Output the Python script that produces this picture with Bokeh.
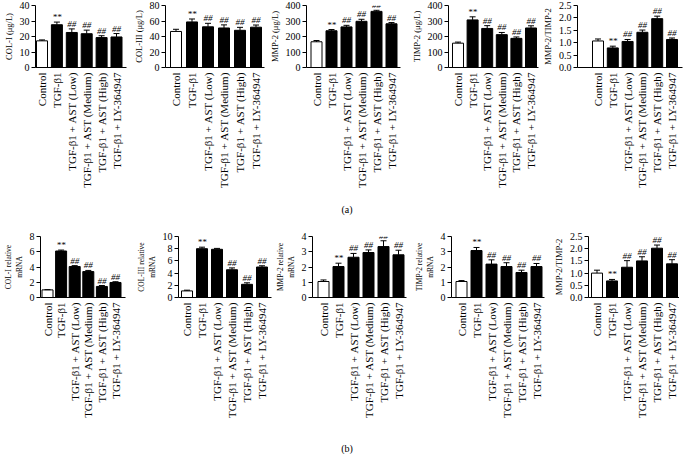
import math
from bokeh.plotting import figure
from bokeh.models import (Range1d, FixedTicker, SingleIntervalTicker, NumeralTickFormatter,
                          Whisker, TeeHead, ColumnDataSource, Div, LabelSet)
from bokeh.layouts import row, column
from bokeh.embed import file_html
from bokeh.resources import INLINE

groups = ["Control", "TGF-β1", "TGF-β1 + AST (Low)", "TGF-β1 + AST (Medium)",
          "TGF-β1 + AST (High)", "TGF-β1 + LY-364947"]

# (a) protein levels
col1_a = [17.2, 27.6, 22.6, 21.8, 19.3, 19.7]
col1_a_err = [0.6, 1.7, 2.3, 2.3, 1.2, 2.2]
col3_a = [46.5, 58.8, 52.5, 51.0, 48.0, 52.0]
col3_a_err = [2.8, 3.8, 4.5, 4.0, 3.8, 2.8]
mmp2_a = [166, 237, 262, 298, 362, 282]
mmp2_a_err = [8, 8, 10, 13, 7, 8]
timp2_a = [157, 307, 252, 212, 188, 255]
timp2_a_err = [7, 20, 18, 14, 9, 14]
ratio_a = [1.07, 0.79, 1.05, 1.42, 1.97, 1.13]
ratio_a_err = [0.08, 0.07, 0.08, 0.09, 0.10, 0.06]

# (b) relative mRNA
col1_b = [1.0, 6.1, 4.06, 3.4, 1.45, 1.97]
col1_b_err = [0.03, 0.12, 0.12, 0.15, 0.12, 0.1]
col3_b = [1.08, 8.0, 7.9, 4.55, 2.16, 5.0]
col3_b_err = [0.12, 0.25, 0.15, 0.3, 0.25, 0.2]
mmp2_b = [1.05, 2.03, 2.64, 2.95, 3.34, 2.8]
mmp2_b_err = [0.1, 0.22, 0.25, 0.17, 0.38, 0.3]
timp2_b = [1.05, 3.08, 2.19, 2.03, 1.64, 2.03]
timp2_b_err = [0.06, 0.2, 0.28, 0.25, 0.15, 0.2]
ratio_b = [1.0, 0.68, 1.24, 1.5, 2.02, 1.38]
ratio_b_err = [0.12, 0.06, 0.27, 0.17, 0.13, 0.17]

marks_std = ["", "**", "##", "##", "##", "##"]
marks_col3_b = ["", "**", "", "##", "##", "##"]

FONT = "Liberation Serif"

# (label, label size, values, errors, marks, y max, tick step, tick format)
panels_a = [
    ("COL-I (μg/L)", "8.5px", col1_a, col1_a_err, marks_std, 40, 10, "0"),
    ("COL-III (μg/L)", "8.5px", col3_a, col3_a_err, marks_std, 80, 20, "0"),
    ("MMP-2 (μg/L)", "8.5px", mmp2_a, mmp2_a_err, marks_std, 400, 100, "0"),
    ("TIMP-2 (μg/L)", "8.5px", timp2_a, timp2_a_err, marks_std, 400, 100, "0"),
    ("MMP-2/TIMP-2", "8.5px", ratio_a, ratio_a_err, marks_std, 2.5, 0.5, "0.0"),
]
panels_b = [
    ("COL-I relative\nmRNA", "7.5px", col1_b, col1_b_err, marks_std, 8, 2, "0"),
    ("COL-III relative\nmRNA", "7.5px", col3_b, col3_b_err, marks_col3_b, 10, 2, "0"),
    ("MMP-2 relative\nmRNA", "7.5px", mmp2_b, mmp2_b_err, marks_std, 4, 1, "0"),
    ("TIMP-2 relative\nmRNA", "7.5px", timp2_b, timp2_b_err, marks_std, 4, 1, "0"),
    ("MMP-2/TIMP-2", "8.5px", ratio_b, ratio_b_err, marks_std, 2.5, 0.5, "0.0"),
]

# layout geometry (page pixels)
geo_a = dict(edges=[8, 137, 274, 408, 544, 685], L=[43, 173, 311, 453, 578],
             R=[134, 272, 405, 543, 683], c0=[49.5, 183.5, 321, 462.5, 598.5],
             s=[14.9, 16, 15, 14.6, 14.8], frame_h=62, top=5, bottom=122)
geo_b = dict(edges=[8, 140, 278, 414, 552, 685], L=[47, 184, 318, 457, 594],
             R=[132, 277, 412, 550, 685], c0=[54, 192.5, 329, 467, 602.5],
             s=[13.6, 15, 15, 15, 15], frame_h=61, top=13, bottom=122)


def make_panel(spec, geo, i):
    label, lsize, vals, errs, marks, ymax, step, fmt = spec
    start, end = geo["edges"][i], geo["edges"][i + 1]
    L, R, c0, s = geo["L"][i], geo["R"][i], geo["c0"][i], geo["s"][i]
    x0 = -(c0 - L) / s
    x1 = x0 + (R - L) / s
    idx = list(range(len(groups)))
    p = figure(width=None, height=None, frame_width=R - L, frame_height=geo["frame_h"],
               output_backend="svg", toolbar_location=None,
               x_range=Range1d(x0, x1), y_range=Range1d(0, ymax),
               min_border_left=L - start, min_border_right=end - R,
               min_border_top=geo["top"], min_border_bottom=geo["bottom"])
    p.outline_line_color = None
    p.grid.visible = False
    p.background_fill_color = "white"
    p.border_fill_color = "white"

    fills = ["white" if k == 0 else "black" for k in idx]
    src = ColumnDataSource(dict(x=idx, v=vals, ve=[a + b for a, b in zip(vals, errs)],
                                fill=fills, mark=marks))
    p.vbar(x="x", top="v", width=11.0 / s, fill_color="fill", line_color="black",
           line_width=1, source=src)
    w = Whisker(base="x", lower="v", upper="ve", source=src, dimension="height",
                lower_head=None, upper_head=TeeHead(size=6, line_width=1, line_color="black"),
                line_color="black", line_width=1, level="glyph")
    p.add_layout(w)
    marks_ann = LabelSet(x="x", y="ve", text="mark", source=src, text_font=FONT,
                         text_font_size="9px", text_align="center", text_baseline="bottom",
                         text_font_style="italic", text_color="black", y_offset=0,
                         level="overlay")
    p.add_layout(marks_ann)

    xa = p.xaxis[0]
    xa.axis_label = None
    xa.ticker = FixedTicker(ticks=idx)
    xa.major_label_overrides = {k: g for k, g in zip(idx, groups)}
    xa.major_label_orientation = math.pi / 2
    xa.major_tick_out = 0
    xa.major_tick_in = 0
    xa.minor_tick_out = 0
    xa.major_label_standoff = 5
    xa.axis_line_color = "black"
    xa.major_label_text_font = FONT
    xa.major_label_text_font_size = "11px"
    xa.major_label_text_color = "black"

    ya = p.yaxis[0]
    ya.ticker = SingleIntervalTicker(interval=step, num_minor_ticks=0)
    ya.formatter = NumeralTickFormatter(format=fmt)
    ya.axis_label = label
    ya.axis_label_text_font = FONT
    ya.axis_label_text_font_size = lsize
    ya.axis_label_text_font_style = "normal"
    ya.axis_label_text_color = "black"
    ya.axis_label_standoff = 3
    ya.major_tick_out = 4
    ya.major_tick_in = 0
    ya.minor_tick_out = 0
    ya.minor_tick_in = 0
    ya.major_label_standoff = 2
    ya.major_label_text_font = FONT
    ya.major_label_text_font_size = "10px"
    ya.major_label_text_color = "black"
    ya.axis_line_color = "black"
    ya.major_tick_line_color = "black"
    return p


row_a = row(*[make_panel(sp, geo_a, i) for i, sp in enumerate(panels_a)])
row_b = row(*[make_panel(sp, geo_b, i) for i, sp in enumerate(panels_b)])

label_style = {"text-align": "center", "font-family": FONT, "font-size": "10px",
               "color": "black", "width": "100%"}
div_a = Div(text="(a)", width=677, height=23,
            styles=dict(label_style, **{"line-height": "30px"}))
div_b = Div(text="(b)", width=677, height=30,
            styles=dict(label_style, **{"line-height": "48px"}))

layout = column(row_a, div_a, row_b, div_b)

open("out.html", "w").write(file_html(layout, INLINE))
